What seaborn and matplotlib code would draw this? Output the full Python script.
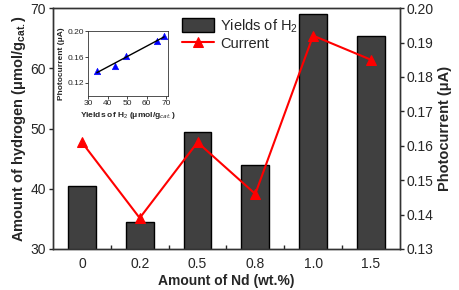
import matplotlib
matplotlib.use("Agg")
import matplotlib.pyplot as plt
import numpy as np
import pandas as pd
import seaborn as sns
from matplotlib.ticker import MultipleLocator, FixedLocator, FormatStrFormatter

nd_amount = ["0", "0.2", "0.5", "0.8", "1.0", "1.5"]
h2_yield = [40.4, 34.5, 49.5, 43.9, 69.0, 65.3]
current = [0.161, 0.139, 0.161, 0.146, 0.192, 0.185]

inset_yield = [34.5, 44.0, 49.5, 65.3, 69.0]
inset_current = [0.139, 0.146, 0.161, 0.185, 0.192]

sns.set_theme(style="ticks")
plt.rcParams["font.family"] = ["Liberation Sans", "DejaVu Sans"]
plt.rcParams["mathtext.fontset"] = "custom"
plt.rcParams["mathtext.rm"] = "Liberation Sans"
plt.rcParams["mathtext.bf"] = "Liberation Sans:bold"

df = pd.DataFrame({"nd": nd_amount, "h2": h2_yield, "cur": current})

fig = plt.figure(figsize=(4.59, 2.90), dpi=100)
ax = fig.add_axes([0.1155, 0.1414, 0.7555, 0.8306])

sns.barplot(data=df, x="nd", y="h2", color="#404040", edgecolor="black",
            linewidth=1.0, width=0.48, saturation=1, ax=ax, label="Yields of H$_2$")
if ax.get_legend() is not None:
    ax.get_legend().remove()
ax.set_xlim(-0.5, 5.5)
ax.set_ylim(30, 70)
ax.yaxis.set_major_locator(MultipleLocator(10))
ax.set_xlabel("Amount of Nd (wt.%)", fontsize=10, fontweight="bold", labelpad=2)
ax.set_ylabel("Amount of hydrogen (μmol/g$_{\\mathbf{cat.}}$)", fontsize=10.5,
              fontweight="bold", labelpad=2)
ax.tick_params(axis="both", labelsize=10, direction="out", length=3, width=1, pad=2)
ax.xaxis.set_minor_locator(FixedLocator(np.arange(0.5, 5.0, 1.0)))
ax.tick_params(axis="x", which="major", length=0, pad=6)
ax.tick_params(axis="x", which="minor", length=3, width=1, direction="in")
for s in ax.spines.values():
    s.set_color("#333333")
    s.set_linewidth(1.0)

ax2 = ax.twinx()
xpos = np.arange(len(current))
sns.lineplot(x=xpos, y=current, color="red", marker="^", markersize=7,
             markeredgecolor="red", linewidth=1.5, ax=ax2, label="Current")
ax2.set_ylim(0.13, 0.20)
ax2.yaxis.set_major_locator(MultipleLocator(0.01))
ax2.set_ylabel("Photocurrent (μA)", fontsize=10.5, fontweight="bold", labelpad=3)
ax2.tick_params(axis="y", labelsize=10, direction="out", length=3, width=1, pad=2)
for s in ax2.spines.values():
    s.set_color("#333333")
    s.set_linewidth(1.0)

h1, l1 = ax.get_legend_handles_labels()
h2, l2 = ax2.get_legend_handles_labels()
if ax2.get_legend() is not None:
    ax2.get_legend().remove()
ax2.legend(h1 + h2, l1 + l2, loc="upper left", bbox_to_anchor=(0.347, 1.0),
           frameon=False, fontsize=10.5, handlelength=2.2, handleheight=1.1,
           handletextpad=0.4, labelspacing=0.1, borderaxespad=0.2)

# inset
axi = fig.add_axes([0.192, 0.669, 0.174, 0.224])
sns.regplot(x=inset_yield, y=inset_current, ci=None, ax=axi, color="black",
            scatter=False, line_kws={"linewidth": 1})
sns.scatterplot(x=inset_yield, y=inset_current, marker="^", color="blue",
                s=22, edgecolor="blue", ax=axi)
axi.set_xlim(30, 71)
axi.set_ylim(0.10, 0.20)
axi.xaxis.set_major_locator(MultipleLocator(10))
axi.yaxis.set_major_locator(FixedLocator([0.12, 0.16, 0.20]))
axi.yaxis.set_major_formatter(FormatStrFormatter("%.2f"))
axi.tick_params(labelsize=6, length=2, width=0.6, pad=1)
axi.set_xlabel("Yields of H$_2$ (μmol/g$_{cat.}$)", fontsize=6, fontweight="bold", labelpad=2)
axi.set_ylabel("Photocurrent (μA)", fontsize=6, fontweight="bold", labelpad=2)
for s in axi.spines.values():
    s.set_linewidth(0.6)
    s.set_color("#333333")

fig.savefig("out.png", dpi=100)
